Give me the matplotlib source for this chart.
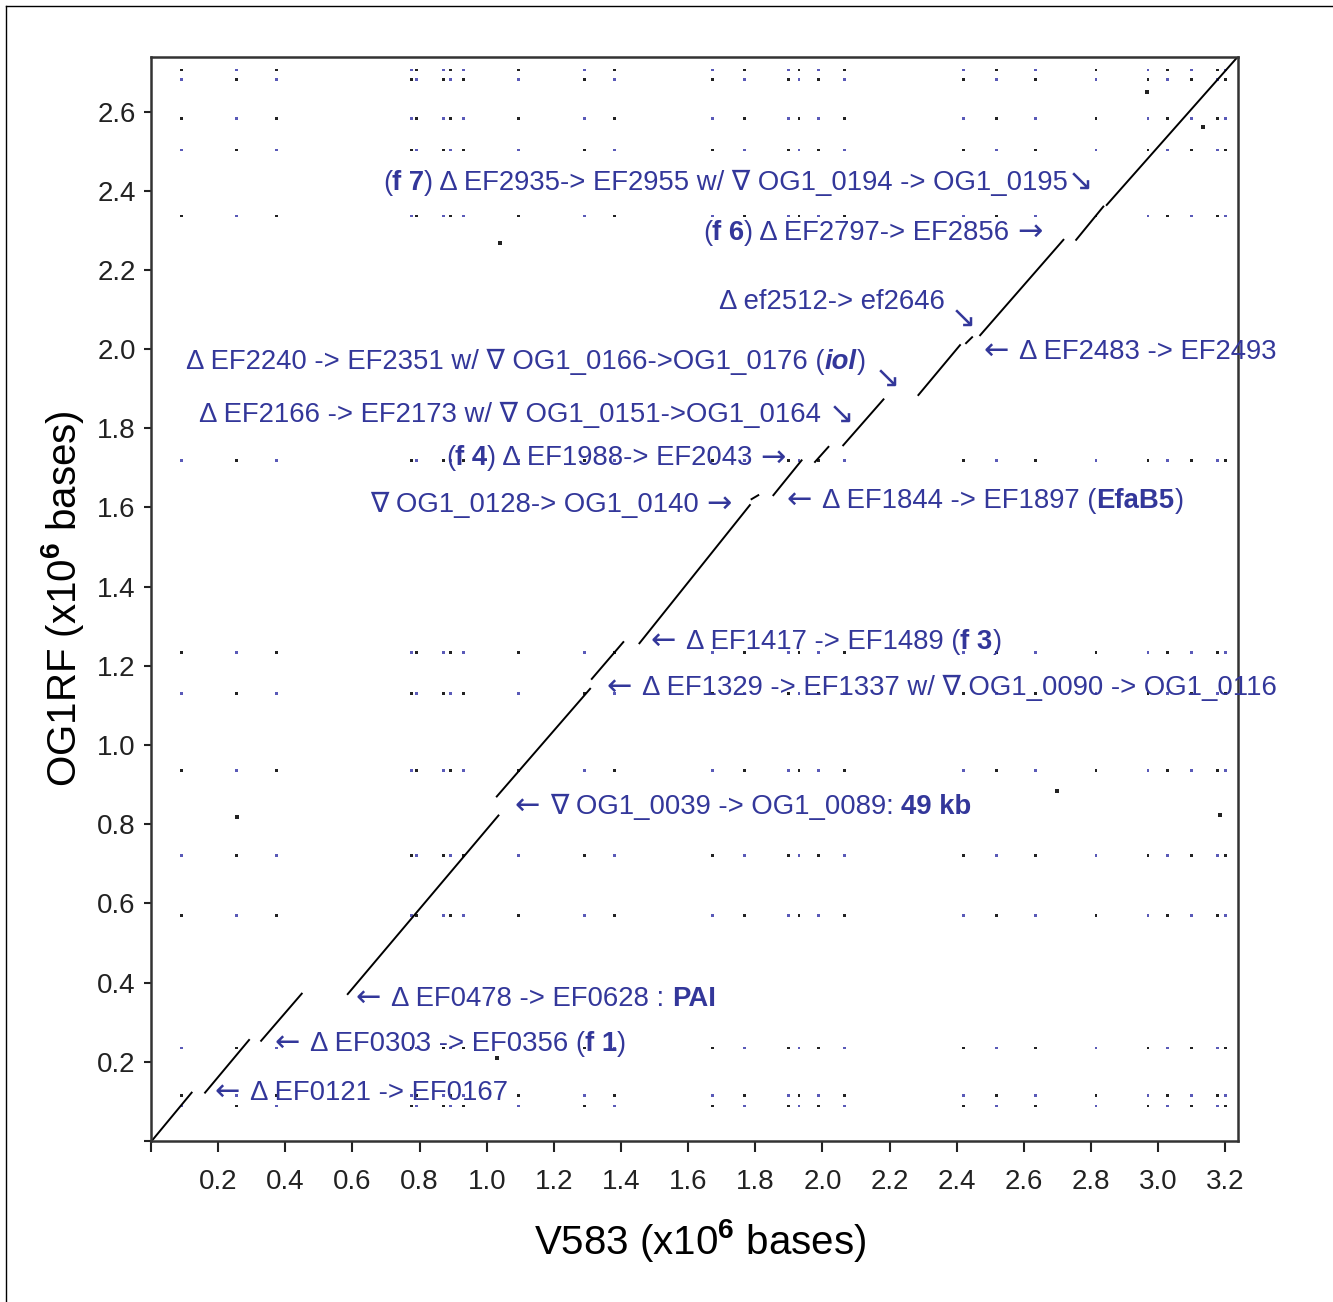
import re
import matplotlib
matplotlib.use('Agg')
import matplotlib.pyplot as plt
import numpy as np

plt.rcParams['font.family'] = ['Liberation Sans', 'DejaVu Sans']
plt.rcParams['mathtext.fontset'] = 'custom'
plt.rcParams['mathtext.rm'] = 'Liberation Sans'
plt.rcParams['mathtext.bf'] = 'Liberation Sans:bold'

# Segments alignes V583 (x) vs OG1RF (y), en Mb
seg_x0 = [0.002, 0.161, 0.328, 0.586, 1.030, 1.313, 1.455, 1.789, 1.854, 1.978, 2.062, 2.286, 2.428, 2.470, 2.756, 2.847]
seg_y0 = [0.000, 0.122, 0.253, 0.371, 0.870, 1.167, 1.257, 1.621, 1.631, 1.715, 1.757, 1.884, 2.015, 2.035, 2.276, 2.364]
seg_x1 = [0.121, 0.292, 0.449, 1.035, 1.308, 1.407, 1.784, 1.809, 1.938, 2.018, 2.182, 2.410, 2.446, 2.718, 2.837, 3.235]
seg_y1 = [0.122, 0.255, 0.372, 0.822, 1.142, 1.260, 1.606, 1.631, 1.719, 1.753, 1.873, 2.010, 2.030, 2.276, 2.360, 2.736]

# positions des repetitions (points hors diagonale)
rep_x = [0.091, 0.255, 0.374, 0.777, 0.792, 0.871, 0.891, 0.930, 1.094, 1.291, 1.381, 1.672, 1.769,
         1.898, 1.930, 1.988, 2.066, 2.421, 2.518, 2.634, 2.815, 2.970, 3.028, 3.099, 3.177, 3.202]
rep_y = [2.705, 2.680, 2.582, 2.503, 2.336, 1.719, 1.234, 1.130, 0.936, 0.721, 0.569, 0.235, 0.114, 0.088]
extra_x = [0.256, 2.699, 1.031, 3.184, 2.967, 3.134, 1.040]
extra_y = [0.817, 0.885, 0.210, 0.822, 2.650, 2.561, 2.268]

xticks = np.round(np.arange(0, 3.21, 0.2), 1)
yticks = np.round(np.arange(0, 2.61, 0.2), 1)

# annotations : (texte, graisse, style)
annot_parts = [
    [("(", "normal", "normal"), ("f 7", "bold", "normal"), (") Δ EF2935-> EF2955 w/ ∇ OG1_0194 -> OG1_0195↘", "normal", "normal")],
    [("(", "normal", "normal"), ("f 6", "bold", "normal"), (") Δ EF2797-> EF2856 →", "normal", "normal")],
    [("Δ ef2512-> ef2646", "normal", "normal")],
    [("← Δ EF2483 -> EF2493", "normal", "normal")],
    [("Δ EF2240 -> EF2351 w/ ∇ OG1_0166->OG1_0176 (", "normal", "normal"), ("iol", "bold", "italic"), (")", "normal", "normal")],
    [("Δ EF2166 -> EF2173 w/ ∇ OG1_0151->OG1_0164 ↘", "normal", "normal")],
    [("(", "normal", "normal"), ("f 4", "bold", "normal"), (") Δ EF1988-> EF2043 →", "normal", "normal")],
    [("∇ OG1_0128-> OG1_0140 →", "normal", "normal")],
    [("← Δ EF1844 -> EF1897 (", "normal", "normal"), ("EfaB5", "bold", "normal"), (")", "normal", "normal")],
    [("← Δ EF1417 -> EF1489 (", "normal", "normal"), ("f 3", "bold", "normal"), (")", "normal", "normal")],
    [("← Δ EF1329 -> EF1337 w/ ∇ OG1_0090 -> OG1_0116", "normal", "normal")],
    [("← ∇ OG1_0039 -> OG1_0089: ", "normal", "normal"), ("49 kb", "bold", "normal")],
    [("← Δ EF0478 -> EF0628 : ", "normal", "normal"), ("PAI", "bold", "normal")],
    [("← Δ EF0303 -> EF0356 (", "normal", "normal"), ("f 1", "bold", "normal"), (")", "normal", "normal")],
    [("← Δ EF0121 -> EF0167", "normal", "normal")],
]
annot_pos = [(0.691, 2.420), (1.644, 2.293), (1.692, 2.119), (2.481, 1.997), (0.104, 1.967),
             (0.143, 1.833), (0.879, 1.724), (0.652, 1.606), (1.895, 1.621), (1.489, 1.264),
             (1.358, 1.148), (1.084, 0.847), (0.611, 0.362), (0.369, 0.248), (0.191, 0.124)]
extra_arrows = [(2.419, 2.078), (2.195, 1.927)]

blue = '#33379a'
FS = 19.8

fig = plt.figure(figsize=(13.33, 13.02), dpi=100)
ax = fig.add_axes([0.1133, 0.1237, 0.8154, 0.8326])

# points de repetitions
gx, gy = np.meshgrid(rep_x, rep_y)
cols = ['#5a5ab8' if (i + j) % 2 else '#222222' for j in range(len(rep_y)) for i in range(len(rep_x))]
ax.scatter(gx.ravel(), gy.ravel(), s=4, c=cols, marker='s', linewidths=0, zorder=1)
ax.scatter(extra_x, extra_y, s=8, c='#222222', marker='s', linewidths=0, zorder=1)

# diagonale
for x0, y0, x1, y1 in zip(seg_x0, seg_y0, seg_x1, seg_y1):
    ax.plot([x0, x1], [y0, y1], color='black', lw=1.4, zorder=2)


def rich_text(ax, x, y, parts):
    t = None
    for s, w, st in parts:
        # les fleches en DejaVu (plus grandes)
        for run in re.findall(r'[←→↘]\s*|[^←→↘]+', s):
            if run[0] in '←→↘':
                kw = dict(family='DejaVu Sans', fontsize=FS + 2, fontweight='normal')
            else:
                kw = dict(fontsize=FS, fontweight=w, fontstyle=st)
            if t is None:
                t = ax.text(x, y, run, va='center', ha='left', color=blue, zorder=3, **kw)
            else:
                t = ax.annotate(run, xy=(1, 0), xycoords=t, va='bottom', ha='left',
                                color=blue, zorder=3, **kw)
    return t


for parts, (x, y) in zip(annot_parts, annot_pos):
    rich_text(ax, x, y, parts)
for x, y in extra_arrows:
    ax.text(x, y, "↘", family='DejaVu Sans', fontsize=FS + 2, color=blue, ha='center', va='center')

ax.set_xlim(0, 3.238)
ax.set_ylim(0, 2.738)
ax.set_xticks(xticks)
ax.set_xticklabels(['' if v == 0 else f'{v:.1f}' for v in xticks])
ax.set_yticks(yticks)
ax.set_yticklabels(['' if v == 0 else f'{v:.1f}' for v in yticks])
ax.tick_params(axis='x', length=8, width=1.5, pad=12, labelsize=20, colors='#222222')
ax.tick_params(axis='y', length=5, width=1.5, pad=6, labelsize=20, colors='#222222')
for sp in ax.spines.values():
    sp.set_linewidth(1.8)
    sp.set_color('#333333')

ax.set_xlabel(r'V583 (x10$^{\mathbf{6}}$ bases)', fontsize=29, labelpad=14)
ax.xaxis.set_label_coords(0.505, -0.07)
ax.set_ylabel(r'OG1RF (x10$^{\mathbf{6}}$ bases)', fontsize=29, labelpad=8)

# cadre exterieur
fig.add_artist(plt.Line2D([5.5 / 1333, 5.5 / 1333], [0, 1 - 5.5 / 1302], transform=fig.transFigure, color='black', lw=1))
fig.add_artist(plt.Line2D([5.5 / 1333, 1], [1 - 5.5 / 1302, 1 - 5.5 / 1302], transform=fig.transFigure, color='black', lw=1))

fig.savefig('out.png', dpi=100)
